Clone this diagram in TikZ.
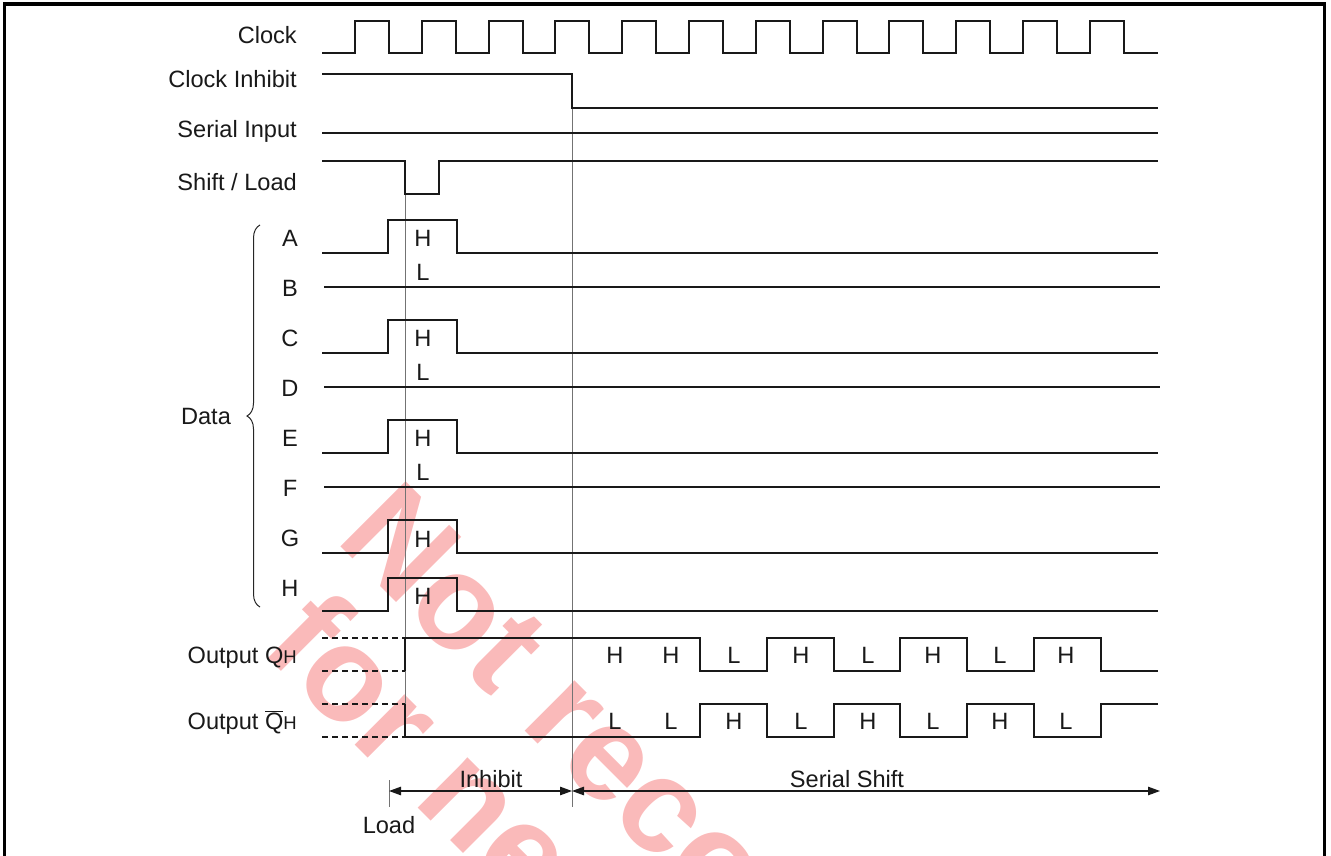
\documentclass[tikz,border=0pt]{standalone}
\usepackage{fontspec}
\setmainfont{Liberation Sans}
\usetikzlibrary{arrows.meta,decorations.pathreplacing}
\definecolor{wm}{RGB}{250,186,186}
\begin{document}
\begin{tikzpicture}[x=1pt,y=-1pt,
  sig/.style={line width=1.9pt,black!90},
  dsig/.style={line width=1.6pt,black!90,dash pattern=on 6pt off 4pt},
  guide/.style={line width=0.9pt,black!55},
  dim/.style={line width=1.1pt,black!90,{Triangle[length=12pt,width=8.5pt]}-{Triangle[length=12pt,width=8.5pt]}},
  txt/.style={font=\fontsize{23.6}{28}\selectfont,inner sep=0pt,text=black!90},
  lbl/.style={txt,anchor=base east},
  val/.style={txt,anchor=base},
  wmtxt/.style={font=\fontsize{134}{134}\bfseries\selectfont,text=wm,inner sep=0pt,anchor=base west,rotate=-45}]
\useasboundingbox (0,0) rectangle (1331,856);
\begin{scope}
\clip (0,0) rectangle (1331,856);
% watermark
\node[wmtxt] (wm1) at (334,540) {Not recommended};
\node[wmtxt] (wm2) at (259,649) {for new design};
% frame
\draw[line width=3.2pt] (4.8,870) -- (4.8,4) -- (1324.8,4) -- (1324.8,870);
\end{scope}

% signal labels
\node[lbl] (lclk) at (297,43.5) {Clock};
\node[lbl] (linh) at (297,88) {Clock Inhibit};
\node[lbl] (lser) at (297,138) {Serial Input};
\node[lbl] (lsl) at (297,190) {Shift / Load};
\node[lbl] (lqh) at (297,663) {Output Q{\fontsize{18.5}{20}\selectfont H}};
\node[lbl] (lqhb) at (297,729.3) {Output $\overline{\mbox{Q}}${\fontsize{18.5}{20}\selectfont H}};

% data labels
\node[val] (dA) at (290,246) {A};
\node[val] (dB) at (290,296) {B};
\node[val] (dC) at (290,346) {C};
\node[val] (dD) at (290,396) {D};
\node[val] (dE) at (290,446) {E};
\node[val] (dF) at (290,496) {F};
\node[val] (dG) at (290,546) {G};
\node[val] (dH) at (290,596) {H};
\node[val] (ldata) at (206,424) {Data};
\draw[line width=1pt,black!85,decorate,decoration={brace,amplitude=13pt}] (260,607) -- (260,225);

% guides
\draw[guide] (405,194) -- (405,737);
\draw[guide] (572,108) -- (572,807);
\draw[guide] (389,780) -- (389,807);

% clock
\draw[sig] (322,53) foreach \k in {0,...,11} {
  -- ({355+66.8*\k},53) -- ({355+66.8*\k},21) -- ({389+66.8*\k},21) -- ({389+66.8*\k},53) } -- (1158,53);
% clock inhibit
\draw[sig] (322,74) -- (572,74) -- (572,108) -- (1158,108);
% serial input
\draw[sig] (322,133) -- (1158,133);
% shift/load
\draw[sig] (322,161) -- (405,161) -- (405,194) -- (439,194) -- (439,161) -- (1158,161);

% data signals
\foreach \y in {253,353,453,553} {
  \draw[sig] (322,\y) -- (388,\y) -- (388,\y-33) -- (457,\y-33) -- (457,\y) -- (1158,\y);
}
\draw[sig] (322,611) -- (388,611) -- (388,578) -- (457,578) -- (457,611) -- (1158,611);
\foreach \y in {287,387,487} {
  \draw[sig] (324,\y) -- (1160,\y);
}
% data values
\node[val] (vA) at (423,246) {H};
\node[val] (vB) at (423,280) {L};
\node[val] (vC) at (423,346) {H};
\node[val] (vD) at (423,380) {L};
\node[val] (vE) at (423,446) {H};
\node[val] (vF) at (423,480) {L};
\node[val] (vG) at (423,547) {H};
\node[val] (vH) at (423,604) {H};

% outputs
\draw[dsig] (322,638) -- (405,638);
\draw[dsig] (322,671) -- (405,671);
\draw[dsig] (322,704) -- (405,704);
\draw[dsig] (322,737) -- (405,737);
\draw[sig] (405,671) -- (405,638) -- (700,638) -- (700,671) -- (766.8,671) -- (766.8,638)
  -- (833.6,638) -- (833.6,671) -- (900.4,671) -- (900.4,638) -- (967.2,638) -- (967.2,671)
  -- (1034,671) -- (1034,638) -- (1100.8,638) -- (1100.8,671) -- (1158,671);
\draw[sig] (405,704) -- (405,737) -- (700,737) -- (700,704) -- (766.8,704) -- (766.8,737)
  -- (833.6,737) -- (833.6,704) -- (900.4,704) -- (900.4,737) -- (967.2,737) -- (967.2,704)
  -- (1034,704) -- (1034,737) -- (1100.8,737) -- (1100.8,704) -- (1158,704);
\foreach \x/\a/\b [count=\i] in {615/H/L,671/H/L,734/L/H,801/H/L,868/L/H,933/H/L,1000/L/H,1066/H/L} {
  \node[val] (q\i) at (\x,663) {\a};
  \node[val] (qb\i) at (\x,729) {\b};
}

% dimensions
\coordinate (pl) at (389,791);
\coordinate (pi) at (572,791);
\coordinate (ps) at (1160,791);
\draw[dim] (pl) -- (pi);
\draw[dim] (pi) -- (ps);
\node[val] (tinh) at (491,787) {Inhibit};
\node[val] (tss) at (847,787) {Serial Shift};
\node[val] (tld) at (389,833) {Load};
\end{tikzpicture}
\end{document}
